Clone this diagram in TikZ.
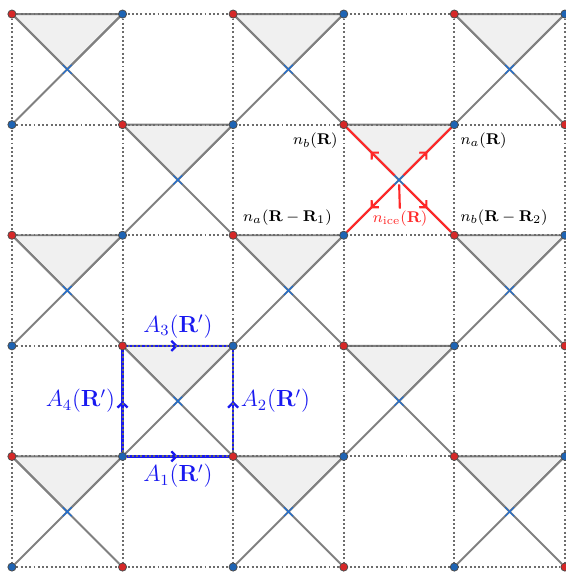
\documentclass[tikz,border=0pt]{standalone}
\usepackage{xcolor}
\definecolor{sitered}{RGB}{214,40,40}
\definecolor{siteblue}{RGB}{30,100,180}
\definecolor{icered}{RGB}{255,40,40}
\definecolor{loopblue}{RGB}{25,25,240}
\definecolor{crossblue}{RGB}{30,110,210}
\usepackage{amsmath, amssymb}
\usepackage{tikz}
\usetikzlibrary{arrows.meta, positioning, decorations.markings, shapes.misc, backgrounds}

\begin{document}
\begin{tikzpicture}[
  x=2cm, y=2cm,
  site/.style={circle, draw=black!70, line width=0.4pt, minimum size=4.2pt, inner sep=0pt},
  ctr/.style={cross out, draw=crossblue, line width=0.6pt, minimum size=4pt, inner sep=0pt},
  tri/.style={fill=gray!12, draw=gray, line width=1pt},
  gridline/.style={gray!85!black, line width=1pt, dash pattern=on 1pt off 1.2pt},
  diag/.style={gray, line width=1pt},
  midarrow/.style={postaction={decorate}, decoration={markings,
      mark=at position 0.5 with {\arrow{Straight Barb[length=2.5pt, width=5.2pt]}}}},
  flux/.style={loopblue, line width=1.2pt, midarrow},
  icearm/.style={icered, line width=1.1pt, midarrow},
  lbl/.style={font=\fontsize{8.4pt}{10pt}\selectfont, inner sep=3pt},
  alabel/.style={font=\large, text=loopblue}
]
  \useasboundingbox (-0.108,-5.045) rectangle (5.009,0.127);

  % Sites (red = b, blue = a)
  \foreach \i in {0,...,5}
    \foreach \j in {0,...,5} {
      \pgfmathtruncatemacro\pp{mod(\i+\j,2)}
      \ifnum\pp=0 \def\col{sitered}\else\def\col{siteblue}\fi
      \node[site, fill=\col] (v\i\j) at (\i,-\j) {};
    }

  % Cell centres
  \foreach \c/\r in {0/0,2/0,4/0,1/1,3/1,0/2,2/2,4/2,1/3,3/3,0/4,2/4,4/4}
    \node[ctr] (c\c\r) at (\c+0.5,-\r-0.5) {};

  \begin{scope}[on background layer]
    % Triangles
    \foreach \c/\r in {0/0,2/0,4/0,1/1,3/1,0/2,2/2,4/2,1/3,3/3,0/4,2/4,4/4} {
      \pgfmathtruncatemacro\cc{\c+1}
      \filldraw[tri] (v\c\r.center) -- (v\cc\r.center) -- (c\c\r.center) -- cycle;
    }

    % Loop A(R')
    \draw[flux] (v14) -- node[below, alabel] (a1) {$A_1(\mathbf{R}')$} (v24);
    \draw[flux] (v24) -- node[right, alabel] (a2) {$A_2(\mathbf{R}')$} (v23);
    \draw[flux] (v13) -- node[above, alabel] (a3) {$A_3(\mathbf{R}')$} (v23);
    \draw[flux] (v14) -- node[left, alabel] (a4) {$A_4(\mathbf{R}')$} (v13);

    % Dotted grid
    \foreach \k in {0,...,5} {
      \draw[gridline] (v0\k) -- (v5\k);
      \draw[gridline] (v\k0) -- (v\k5);
    }

    % Diagonals
    \foreach \c/\r in {0/0,2/0,4/0,1/1,3/1,0/2,2/2,4/2,1/3,3/3,0/4,2/4,4/4} {
      \pgfmathtruncatemacro\cc{\c+1}
      \pgfmathtruncatemacro\rr{\r+1}
      \draw[diag] (v\c\r) -- (v\cc\rr);
      \draw[diag] (v\cc\r) -- (v\c\rr);
    }

    % Ice rule star at R
    \foreach \v in {v31, v41, v32, v42}
      \draw[icearm] (c31) -- (\v);
  \end{scope}

  % Labels
  \node[lbl, anchor=north east, yshift=-1pt] (nbR) at (v31) {$n_b(\mathbf{R})$};
  \node[lbl, anchor=north west, yshift=-1pt] (naR) at (v41) {$n_a(\mathbf{R})$};
  \node[lbl, anchor=south east, xshift=-3pt, yshift=2pt] (naR1) at (v32) {$n_a(\mathbf{R}-\mathbf{R}_1)$};
  \node[lbl, anchor=south west, yshift=2pt] (nbR2) at (v42) {$n_b(\mathbf{R}-\mathbf{R}_2)$};
  \node[lbl, text=icered, inner sep=1pt] (nice) at (3.51,-1.85) {$n_{\text{ice}}(\mathbf{R})$};
  \draw[icered, line width=1.1pt] (c31) -- (nice);
\end{tikzpicture}
\end{document}
